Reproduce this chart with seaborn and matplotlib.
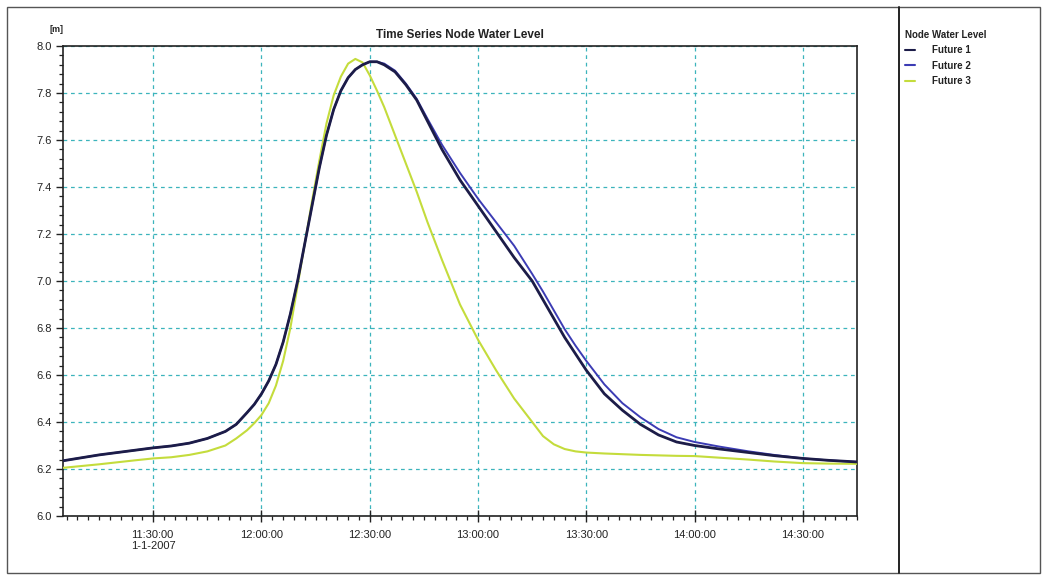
import numpy as np
import pandas as pd
import matplotlib
matplotlib.use("Agg")
import matplotlib.pyplot as plt
import matplotlib.dates as mdates
from matplotlib.ticker import MultipleLocator, FuncFormatter
from matplotlib.lines import Line2D
from matplotlib.patches import Rectangle
import seaborn as sns

# ---- data ----
times = ["11:05", "11:15", "11:25", "11:30", "11:35", "11:40", "11:45", "11:50",
         "11:53", "11:56", "11:58", "12:00", "12:02", "12:04", "12:06", "12:08",
         "12:10", "12:12", "12:14", "12:16", "12:18", "12:20", "12:22", "12:24",
         "12:26", "12:28", "12:30", "12:32", "12:34", "12:37", "12:40", "12:43",
         "12:46", "12:50", "12:55", "13:00", "13:05", "13:10", "13:15", "13:18",
         "13:21", "13:24", "13:27", "13:30", "13:35", "13:40", "13:45", "13:50",
         "13:55", "14:00", "14:07", "14:15", "14:22", "14:30", "14:37", "14:45"]

future1 = [6.235, 6.26, 6.28, 6.29, 6.298, 6.31, 6.33, 6.36,
           6.39, 6.44, 6.475, 6.52, 6.575, 6.645, 6.74, 6.86,
           7.00, 7.16, 7.32, 7.48, 7.62, 7.73, 7.81, 7.865,
           7.90, 7.92, 7.933, 7.933, 7.92, 7.89, 7.835, 7.77,
           7.68, 7.56, 7.43, 7.32, 7.21, 7.10, 7.00, 6.92,
           6.84, 6.76, 6.69, 6.62, 6.52, 6.45, 6.39, 6.345,
           6.315, 6.30, 6.285, 6.27, 6.257, 6.245, 6.237, 6.23]

future2 = [6.235, 6.26, 6.28, 6.29, 6.298, 6.31, 6.33, 6.36,
           6.39, 6.44, 6.475, 6.52, 6.575, 6.645, 6.74, 6.86,
           7.00, 7.16, 7.32, 7.48, 7.62, 7.73, 7.81, 7.865,
           7.90, 7.92, 7.933, 7.933, 7.925, 7.895, 7.84, 7.775,
           7.69, 7.58, 7.46, 7.35, 7.25, 7.15, 7.03, 6.955,
           6.875, 6.795, 6.725, 6.66, 6.56, 6.48, 6.42, 6.37,
           6.335, 6.315, 6.295, 6.275, 6.26, 6.245, 6.237, 6.23]

future3 = [6.205, 6.22, 6.237, 6.245, 6.25, 6.26, 6.275, 6.30,
           6.33, 6.365, 6.395, 6.43, 6.48, 6.555, 6.66, 6.80,
           6.98, 7.16, 7.34, 7.51, 7.67, 7.79, 7.87, 7.925,
           7.945, 7.93, 7.875, 7.81, 7.74, 7.62, 7.50, 7.38,
           7.25, 7.09, 6.90, 6.75, 6.62, 6.50, 6.40, 6.34,
           6.305, 6.285, 6.275, 6.27, 6.266, 6.263, 6.26, 6.258,
           6.256, 6.255, 6.248, 6.24, 6.232, 6.225, 6.223, 6.222]

series_names = ["Future 1", "Future 2", "Future 3"]
series_values = [future1, future2, future3]
series_colors = ["#1c1c48", "#3c3cb4", "#c4dc3c"]
series_widths = [2.0, 1.4, 1.5]
series_z = [5, 4, 3]

date_str = "2007-01-01"
x_start, x_end = "11:05", "14:45"
y_ticks = [6.0, 6.2, 6.4, 6.6, 6.8, 7.0, 7.2, 7.4, 7.6, 7.8, 8.0]

# ---- build data frame ----
frames = []
for name, vals in zip(series_names, series_values):
    frames.append(pd.DataFrame({
        "time": pd.to_datetime([f"{date_str} {t}" for t in times]),
        "level": vals,
        "series": name,
    }))
df = pd.concat(frames, ignore_index=True)

sns.set_theme(style="white")
plt.rcParams['font.family'] = ['Liberation Sans', 'DejaVu Sans']

W, H = 1046, 576
fig = plt.figure(figsize=(W / 100, H / 100), dpi=100)
ax = fig.add_axes([63 / W, 1 - 516 / H, (857 - 63) / W, (516 - 46) / H])

for name, col, lw, z in list(zip(series_names, series_colors, series_widths, series_z))[::-1]:
    sns.lineplot(data=df[df["series"] == name], x="time", y="level",
                 color=col, linewidth=lw, ax=ax, legend=False, zorder=z)

ax.set_xlim(pd.Timestamp(f"{date_str} {x_start}"), pd.Timestamp(f"{date_str} {x_end}"))
ax.set_ylim(6.0, 8.0)
ax.set_xlabel("")
ax.set_ylabel("")

ax.xaxis.set_major_locator(mdates.MinuteLocator(byminute=[0, 30]))
ax.xaxis.set_minor_locator(mdates.MinuteLocator(byminute=range(0, 60, 3)))

def fmt(x, pos):
    d = mdates.num2date(x)
    s = d.strftime("%H:%M:%S")
    if d.hour == 11 and d.minute == 30:
        s += f"\n{d.month}-{d.day}-{d.year}"
    return s

ax.xaxis.set_major_formatter(FuncFormatter(fmt))
ax.set_yticks(y_ticks)
ax.yaxis.set_major_formatter(FuncFormatter(lambda v, p: f"{v:.1f}"))
ax.yaxis.set_minor_locator(MultipleLocator(0.04))

for lab in ax.get_xticklabels():
    lab.set_horizontalalignment("center")
    lab.set_multialignment("left")

ax.tick_params(axis="x", which="major", direction="inout", length=8, width=1,
               labelsize=8, pad=6, colors="#222222")
ax.tick_params(axis="x", which="minor", direction="out", length=3, width=0.9, colors="#222222")
ax.tick_params(axis="y", which="major", direction="out", length=5, width=1,
               labelsize=8, pad=3, colors="#222222")
ax.tick_params(axis="y", which="minor", direction="out", length=3, width=0.9, colors="#222222")
ax.tick_params(bottom=True, left=True, which="both")

ax.grid(True, which="major", linestyle=(0, (3, 3)), color="#3cb4bc", linewidth=0.9, zorder=1)
for sp in ax.spines.values():
    sp.set_visible(True)
    sp.set_color("#222222")
    sp.set_linewidth(1.2)

ax.set_title("Time Series Node Water Level", fontsize=8.5, fontweight="bold", pad=6, color="#222222")
fig.text(50 / W, 1 - 30 / H, "[m]", fontsize=6.5, fontweight="bold", ha="left", va="center", color="#222222")

# ---- legend in right panel ----
handles = [Line2D([0], [0], color=c, lw=1.5) for c in series_colors]
leg = fig.legend(handles, series_names, loc="upper left",
                 bbox_to_anchor=(901 / W, 1 - 26 / H), title="Node Water Level",
                 frameon=False, fontsize=7, title_fontsize=7, handlelength=1.0,
                 labelspacing=0.55, handletextpad=1.8, borderaxespad=0,
                 alignment="left")
for t in leg.get_texts():
    t.set_fontweight("bold")
    t.set_color("#222222")
leg.get_title().set_fontweight("bold")
leg.get_title().set_color("#222222")

# ---- outer frame and divider ----
fig.patches.append(Rectangle((7 / W, 1 - 573 / H), (1040 - 7) / W, (573 - 7) / H,
                             transform=fig.transFigure, fill=False,
                             edgecolor="#555555", linewidth=1.0))
fig.lines.append(Line2D([899 / W, 899 / W], [1 - 573 / H, 1 - 7 / H],
                        transform=fig.transFigure, color="#222222", linewidth=1.4))

fig.savefig("out.png", dpi=100)
